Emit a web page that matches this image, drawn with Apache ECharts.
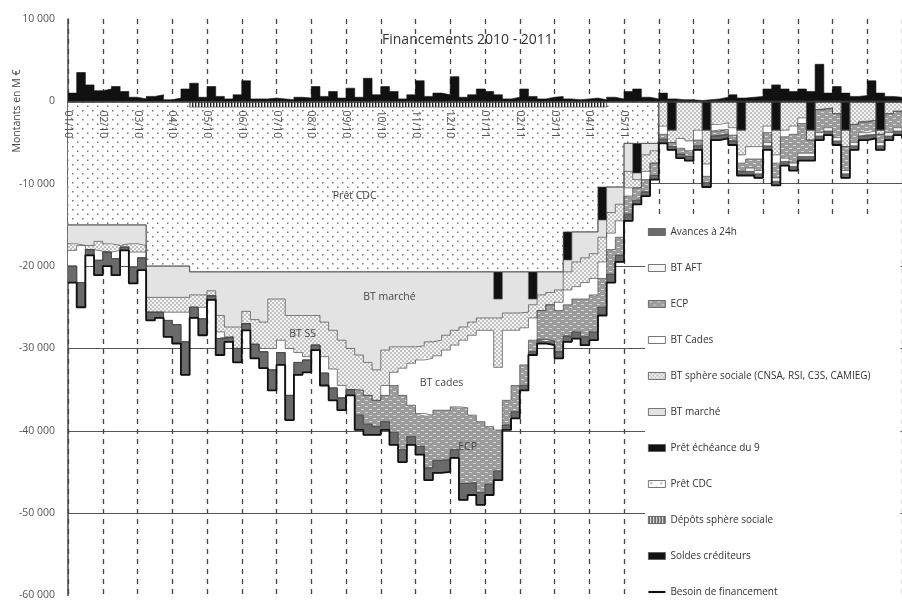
<!DOCTYPE html>
<html><head><meta charset="utf-8">
<script src="https://cdn.jsdelivr.net/npm/echarts@6.0.0/dist/echarts.min.js"></script>
<style>html,body{margin:0;padding:0;background:#fff}#c{width:902px;height:601px}</style>
</head><body><div id="c"></div>
<script>
// Values in thousands of M€, read per quarter-month (point i = month index i/4, 0 = 01/10)
const monthLabels = ['01/10','02/10','03/10','04/10','05/10','06/10','07/10','08/10','09/10','10/10','11/10','12/10','01/11','02/11','03/11','04/11','05/11'];
const yTicks = [-60,-50,-40,-30,-20,-10,0,10];
const N = 97;
const periods = Array.from({length: N}, (_, i) => String(i / 4));
// In-chart annotations: [text, period, value]
const annotations = [['Prêt CDC', '8.25', -11.5], ['BT marché', '9.25', -23.8], ['BT SS', '6.75', -28.2], ['BT cades', '10.75', -34.2], ['ECP', '11.5', -42.0]];

const depots = [0,0,0,0,0,0,0,0,0,0, 0,0,0,0,-0.7,-0.7,-0.7,-0.7,-0.7,-0.7,
 -0.7,-0.7,-0.7,-0.7,-0.7,-0.7,-0.7,-0.7,-0.7,-0.7, -0.7,-0.7,-0.7,-0.7,-0.7,-0.7,-0.7,-0.7,-0.7,-0.7,
 -0.7,-0.7,-0.7,-0.7,-0.7,-0.7,-0.7,-0.7,-0.7,-0.7, -0.7,-0.7,-0.7,-0.7,-0.7,-0.7,-0.7,-0.7,-0.7,-0.7,
 -0.7,-0.7,0,0,0,0,0,0,0,0, 0,0,0,0,0,0,0,0,0,0, 0,0,0,0,0,0,0,0,0,0, 0,0,0,0,0,0,0];
const pretCDC = [-15,-15,-15,-15,-15,-15,-15,-15,-15,-20,
 -20,-20,-20,-20,-20,-20,-20,-20,-20,-20, -20,-20,-20,-20,-20,-20,-20,-20,-20,-20,
 -20,-20,-20,-20,-20,-20,-20,-20,-20,-20, -20,-20,-20,-20,-20,-20,-20,-20,-20,-20,
 -20,-20,-20,-20,-20,-20,-20,-15.15,-15.15,-15.15, -15.15,-9.7,-10.4,-10.4,-5.1,-5.1,-5.1,-5.1,0,0,
 0,0,0,0,0,0,0,0,0,0, 0,0,0,0,0,0,0,0,0,0, 0,0,0,0,0,0,0];
const pretEcheance9 = [0,0,0,0,0,0,0,0,0,0, 0,0,0,0,0,0,0,0,0,0, 0,0,0,0,0,0,0,0,0,0, 0,0,0,0,0,0,0,0,0,0,
 0,0,0,0,0,0,0,0,0,-3.3, 0,0,0,-3.3,0,0,0,-3.4,0,0, 0,-4.0,0,0,0,-3.6,0,0,0,-3.5,
 0,0,0,-3.5,0,0,0,-3.5,0,0, 0,-3.5,0,0,0,-3.5,0,0,0,-3.5, 0,0,0,-3.5,0,0,0];
const btMarche = [-2.3,-2.5,-2.5,-2.0,-2.3,-2.5,-2.3,-2.3,-2.5,-3.8,
 -3.8,-3.8,-3.8,-3.8,-2.8,-2.8,-2.3,-5.3,-6.7,-6.7,
 -4.8,-5.8,-6.1,-3.3,-3.3,-5.3,-5.3,-5.3,-5.3,-6.1,
 -7.1,-8.3,-9.3,-10.1,-11.0,-11.9,-9.5,-9.1,-9.1,-9.1,
 -9.0,-8.5,-8.3,-7.7,-7.1,-6.7,-6.1,-5.6,-5.6,-2.3,
 -5.0,-5.0,-4.9,-0.7,-2.8,-2.5,-2.2,-1.45,-3.65,-3.15,
 -2.65,-2.1,-3.1,-2.1,-3.4,-0.8,-1.4,-0.9,0,0,
 0,0,0,0,0,0,0,0,0,0, 0,0,0,0,0,0,0,0,0,0, 0,0,0,0,0,0,0];
const btSphere = [-0.8,0,-0.5,-1.2,-1.0,-0.6,-0.4,-1.0,-0.8,-1.8,
 -1.8,-1.8,-1.8,-1.8,-1.5,-1.5,-0.6,-2.0,-1.2,-2.6,
 -1.5,-3.0,-3.2,-6.0,-5.0,-4.0,-4.5,-5.0,-3.6,-4.2,
 -4.7,-5.5,-5.0,-4.3,-4.0,-3.7,-4.3,-3.1,-2.6,-2.0,
 -1.7,-2.0,-1.9,-1.8,-1.8,-1.6,-1.6,-1.5,-1.5,-6.0,
 -2.1,-2.1,-1.9,-1.6,-1.9,-1.5,-1.5,-2.2,-3.0,-3.0,
 -3.0,-3.0,-2.5,-2.0,-2.0,-1.0,-2.0,-1.5,-3.0,-1.5,
 -4.5,-4.8,-3.5,-4.1,-2.8,-2.6,-3.2,-3.0,-5.5,-5.5,
 -3.0,-3.0,-3.5,-3.0,-2.0,-1.2,-1.0,-0.8,-1.5,-2.0,
 -2.8,-2.5,-2.3,-0.5,-1.5,-1.2,-1.5];
const btCades = [-1.9,-4.5,0,-1.1,0,-1.0,0,-1.8,-0.7,0,
 0,-1.0,-1.5,-3.6,0,-1.4,0,-0.8,0,0,
 0,0,-0.4,-2.6,-1.5,-5.7,-1.2,-0.4,0,-2.0,
 -2.3,-1.5,0,0,0,0,-1.2,-1.6,-3.3,-5.1,
 -6.5,-6.9,-6.6,-7.3,-7.5,-8.2,-9.7,-11.1,-11.7,-7.6,
 -8.5,-6.7,-4.5,-2.7,0,0,-1.0,-1.8,-1.5,-2.0,
 -2.0,-2.0,-2.0,-2.0,-1.0,0,-1.0,0,-1.0,0,
 -1.2,-1.2,-1.2,-1.5,-0.8,-0.8,-0.9,-1.0,-1.5,-1.5,
 -0.8,-1.0,-0.8,-1.0,-0.7,0,0,0,0,0,
 0,0,0,0,0,0,0];
const ecp = [0,0,0,0,0,0,0,0,0,0, 0,0,0,0,0,0,0,0,0,0, 0,0,0,0,0,0,0,0,0,0,
 0,0,0,-3.0,-3.5,-3.2,-3.2,-5.7,-6.6,-3.8,
 -4.0,-6.4,-6.1,-6.0,-5.2,-9.2,-8.2,-8.6,-7.0,-5.0,
 -3.0,-3.2,-2.5,-1.4,-3.5,-4.4,-5.0,-3.8,-4.0,-4.6,
 -4.5,-3.5,-3.0,-2.2,-2.2,-1.5,-1.5,-1.5,-0.6,-0.5,
 -0.7,-0.7,-0.7,-0.8,-0.6,-0.6,-0.7,-1.0,-1.1,-1.4,
 -1.2,-1.8,-2.6,-3.5,-3.6,-1.6,-2.8,-2.4,-2.9,-2.9,
 -2.2,-1.3,-1.3,-1.0,-2.3,-2.0,-2.1];
const btAFT = [0,0,0,0,0,0,0,0,0,0, 0,0,0,0,0,0,0,0,0,0, 0,0,0,0,0,0,0,0,0,0, 0,0,0,0,0,0,0,0,0,0,
 0,0,0,0,0,0,0,0,0,0, 0,0,0,0,0,0,0,0,0,0, 0,0,0,0,0,0,0,0,0,0,
 0,0,0,0,0,0,0,0,-0.4,-0.4, -0.4,-0.4,-0.4,-0.4,-0.4,-0.4,-0.4,-0.4,-0.4,-0.4, -0.4,-0.4,-0.4,-0.4,-0.4,-0.4,-0.4];
const avances24h = [-2.0,-3.0,-0.7,-1.8,-1.7,-2.0,-0.4,-2.0,-1.5,-1.0,
 -0.7,-2.0,-2.3,-4.0,-1.3,-2.0,-0.5,-2.0,-0.6,-1.7,
 -0.8,-1.7,-2.0,-2.5,-1.5,-3.0,-1.5,-1.5,-0.6,-1.5,
 -1.5,-1.5,-0.7,-1.8,-1.3,-1.0,-1.0,-1.5,-1.5,-1.0,
 -1.0,-1.5,-1.5,-1.5,-1.0,-2.0,-1.5,-1.5,-1.3,-1.1,
 -0.6,-0.8,-0.6,-0.4,-0.5,-0.5,-0.8,-0.7,-0.8,-1.0,
 -1.0,-1.0,-1.0,-0.8,-0.8,-0.5,-0.5,-0.5,-0.5,-0.4,
 -0.5,-0.5,-0.5,-0.5,-0.5,-0.5,-0.5,-0.5,-0.5,-0.5,
 -0.5,-0.5,-0.5,-0.5,-0.5,-0.5,-0.5,-0.5,-0.5,-0.5,
 -0.5,-0.5,-0.5,-0.5,-0.5,-0.5,-0.5];
const besoin = [-22,-25,-18.7,-21.1,-20,-21.1,-18.1,-22.1,-20.5,-26.6,
 -26.3,-28.6,-29.4,-33.2,-26.3,-28.4,-24.1,-30.8,-29.2,-31.7,
 -27.8,-31.2,-32.4,-35.1,-32.0,-38.7,-33.2,-32.9,-30.2,-34.5,
 -36.3,-37.5,-35.7,-39.9,-40.5,-40.5,-39.9,-41.7,-43.8,-41.7,
 -42.9,-46.0,-45.1,-45.0,-43.3,-48.4,-47.8,-49.0,-47.8,-46.0,
 -39.9,-38.5,-35.1,-30.8,-29.4,-29.6,-31.2,-29.2,-28.8,-29.6,
 -29.0,-26.0,-22.0,-19.5,-14.5,-12.5,-11.5,-9.5,-5.1,-5.9,
 -6.9,-7.2,-5.9,-10.4,-4.7,-4.5,-5.3,-9.0,-9.0,-9.3,
 -5.9,-10.2,-7.8,-8.4,-7.2,-7.2,-4.7,-4.1,-5.3,-9.3,
 -5.9,-4.7,-4.5,-5.9,-4.7,-4.1,-4.5];
const soldesCrediteurs = [1.0,3.5,2.0,1.3,1.5,1.8,1.2,0.5,0.3,0.6,
 0.8,0.2,0.4,1.5,2.2,0.5,1.8,0.6,0.3,0.8,
 2.5,0.3,0.3,0.4,0.3,0.2,0.5,0.4,1.8,0.6,
 1.2,0.4,1.6,0.5,2.8,0.8,1.8,1.2,0.3,0.8,
 2.5,0.6,1.0,0.8,3.0,0.5,0.8,1.5,1.2,0.8,
 0.3,0.5,1.5,0.6,0.3,0.5,0.6,0.3,0.2,0.3,
 0.4,0.2,0.5,0.3,1.2,1.5,0.5,0.3,1.0,0.3,
 0.2,0.2,0.1,0.2,0.3,0.5,0.8,0.4,0.5,0.6,
 1.5,2.0,1.5,1.2,1.5,1.2,4.5,1.0,1.8,1.0,
 0.6,0.7,2.5,1.0,0.6,0.5,0.5];

function pattern(w, h, draw) {
  const c = document.createElement('canvas'); c.width = w; c.height = h;
  draw(c.getContext('2d'));
  return { image: c, repeat: 'repeat' };
}
const fillCDC = pattern(10, 9, g => { g.fillStyle = '#fff'; g.fillRect(0,0,10,9); g.fillStyle = '#777'; g.fillRect(2,2,1.5,1.5); g.fillRect(7,6.5,1.5,1.5); });
const fillSS = pattern(4, 4, g => { g.fillStyle = '#c2c2c2'; g.fillRect(0,0,4,4); g.fillStyle = '#f4f4f4'; g.fillRect(0,0,2,2); g.fillRect(2,2,2,2); });
const fillECP = pattern(8, 6, g => { g.fillStyle = '#9b9b9b'; g.fillRect(0,0,8,6); g.fillStyle = '#d8d8d8'; g.fillRect(1,1,3,1); g.fillRect(5,4,3,1); });
const fillDep = pattern(3, 4, g => { g.fillStyle = '#fff'; g.fillRect(0,0,3,4); g.fillStyle = '#222'; g.fillRect(0,0,1.4,4); });
const fillBM = '#e3e3e3', fillBC = '#ffffff', fillAFT = '#f6f6f6', fillAV = '#6a6a6a', fillBlack = '#111';

const FONT = 'Open Sans';
function area(name, arr, fill, solid) {
  return {
    name, type: 'line', stack: 'neg', step: 'end', xAxisIndex: 0,
    data: arr,
    symbol: 'none', showSymbol: false, silent: true,
    lineStyle: { width: 0.7, color: '#4a4a4a' },
    itemStyle: { color: solid },
    areaStyle: { color: fill, opacity: 1 },
    emphasis: { disabled: true }
  };
}
function fmt(v) {
  const n = Math.round(v * 1000);
  const s = String(Math.abs(n)).replace(/\B(?=(\d{3})+(?!\d))/g, ' ');
  return (n < 0 ? '-' : '') + s;
}
const isMonthStart = idx => idx % 4 === 0;
const rectItem = (name, color) => ({ name, icon: 'rect', itemStyle: { color, borderColor: '#555', borderWidth: 0.8 } });

const chart = echarts.init(document.getElementById('c'), null, { renderer: 'canvas' });
chart.setOption({
  animation: false,
  backgroundColor: '#fff',
  textStyle: { fontFamily: FONT },
  title: { text: 'Financements 2010 - 2011', left: 377, top: 28,
    textStyle: { fontSize: 14, fontWeight: 'normal', color: '#333', fontFamily: FONT } },
  graphic: [{ type: 'text', x: 17, y: 111, rotation: Math.PI / 2,
    style: { text: 'Montants en M €', fontSize: 10.5, fill: '#444', fontFamily: FONT, textAlign: 'center', textVerticalAlign: 'middle' } }],
  grid: { left: 68, right: 0, top: 19, bottom: 5, containLabel: false },
  legend: {
    orient: 'vertical', left: 645, top: 218, padding: [8, 30, 2, 3],
    backgroundColor: '#fff', z: 20, selectedMode: false,
    itemWidth: 17, itemHeight: 7, itemGap: 24,
    textStyle: { fontSize: 10, color: '#333', lineHeight: 12, fontFamily: FONT },
    data: [
      rectItem('Avances à 24h', fillAV),
      rectItem('BT AFT', fillAFT),
      rectItem('ECP', fillECP),
      rectItem('BT Cades', fillBC),
      rectItem('BT sphère sociale (CNSA, RSI, C3S, CAMIEG)', fillSS),
      rectItem('BT marché', fillBM),
      rectItem('Prêt échéance du 9', fillBlack),
      rectItem('Prêt CDC', fillCDC),
      rectItem('Dépôts sphère sociale', fillDep),
      rectItem('Soldes créditeurs', fillBlack),
      { name: 'Besoin de financement', icon: 'path://M0,0 H40 V5 H0 Z', itemStyle: { color: '#111' } }
    ]
  },
  xAxis: [
    { type: 'category', data: periods, boundaryGap: false, position: 'bottom',
      axisLine: { show: false, onZero: false }, axisTick: { show: false }, axisLabel: { show: false },
      splitLine: { show: true, interval: isMonthStart, lineStyle: { type: [5, 5], color: '#444', width: 1.3 } } },
    { type: 'category', data: periods, boundaryGap: false, position: 'top', offset: -577 / 7, z: 10,
      axisLine: { show: true, onZero: false, lineStyle: { color: '#333', width: 1.5 } },
      axisTick: { show: false }, splitLine: { show: false },
      axisLabel: { show: true, inside: true, interval: 0, rotate: 90, margin: 9, fontSize: 10.5, color: '#555', fontFamily: FONT,
        formatter: (v, idx) => (isMonthStart(idx) && idx / 4 < monthLabels.length) ? monthLabels[idx / 4] : '' } }
  ],
  yAxis: {
    type: 'value', min: yTicks[0], max: yTicks[yTicks.length - 1], interval: 10,
    axisLine: { show: true, lineStyle: { color: '#444', width: 1.5 } },
    axisTick: { show: false },
    axisLabel: { fontSize: 10.5, color: '#555', margin: 13, fontFamily: FONT, formatter: fmt },
    splitLine: { show: true, showMinLine: false, showMaxLine: false, lineStyle: { color: '#555', width: 1.2 } }
  },
  series: [
    area('Dépôts sphère sociale', depots, fillDep, '#333'),
    area('Prêt CDC', pretCDC, fillCDC, '#ddd'),
    area('Prêt échéance du 9', pretEcheance9, fillBlack, '#111'),
    area('BT marché', btMarche, fillBM, '#e3e3e3'),
    area('BT sphère sociale (CNSA, RSI, C3S, CAMIEG)', btSphere, fillSS, '#ccc'),
    area('BT Cades', btCades, fillBC, '#fff'),
    area('ECP', ecp, fillECP, '#999'),
    area('BT AFT', btAFT, fillAFT, '#f6f6f6'),
    area('Avances à 24h', avances24h, fillAV, '#6a6a6a'),
    { name: 'Soldes créditeurs', type: 'line', step: 'end', xAxisIndex: 0,
      data: soldesCrediteurs, symbol: 'none', silent: true,
      lineStyle: { width: 0.6, color: '#111' }, itemStyle: { color: '#111' },
      areaStyle: { color: '#111', opacity: 1 }, emphasis: { disabled: true } },
    { name: 'Besoin de financement', type: 'line', step: 'end', xAxisIndex: 0, z: 3,
      data: besoin, symbol: 'none', silent: true,
      lineStyle: { width: 1.8, color: '#111' }, itemStyle: { color: '#111' }, emphasis: { disabled: true },
      markPoint: {
        silent: true, symbol: 'rect', symbolSize: 0, animation: false,
        label: { show: true, position: 'inside', fontSize: 10.5, color: '#444', fontFamily: FONT, formatter: p => p.name },
        data: annotations.map(a => ({ name: a[0], coord: [a[1], a[2]] }))
      } }
  ]
});
</script>
</body></html>
